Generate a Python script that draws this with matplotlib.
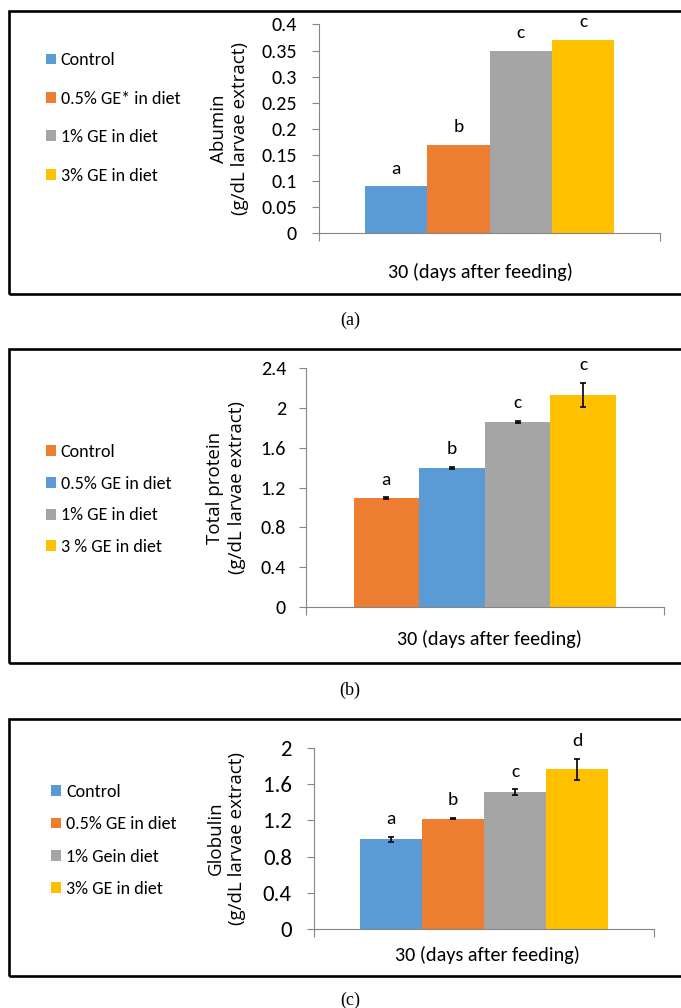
import matplotlib
matplotlib.use("Agg")
import matplotlib.pyplot as plt
from matplotlib.patches import Rectangle

plt.rcParams['font.family'] = ['Carlito', 'Lato', 'DejaVu Sans']

W, H = 681, 1008

# 1. data
labels_a = ["Control", "0.5% GE* in diet", "1% GE in diet", "3% GE in diet"]
colors_a = ["#5B9BD5", "#ED7D31", "#A5A5A5", "#FFC000"]
albumin = [0.09, 0.17, 0.35, 0.37]
letters_a = ["a", "b", "c", "c"]

labels_b = ["Control", "0.5% GE in diet", "1% GE in diet", "3 % GE in diet"]
colors_b = ["#ED7D31", "#5B9BD5", "#A5A5A5", "#FFC000"]
protein = [1.09, 1.40, 1.86, 2.13]
protein_err = [0.01, 0.01, 0.01, 0.12]
letters_b = ["a", "b", "c", "c"]

labels_c = ["Control", "0.5% GE in diet", "1% Gein diet", "3% GE in diet"]
colors_c = ["#5B9BD5", "#ED7D31", "#A5A5A5", "#FFC000"]
globulin = [0.99, 1.22, 1.51, 1.76]
globulin_err = [0.03, 0.01, 0.03, 0.12]
letters_c = ["a", "b", "c", "d"]

yticks_a = [0, 0.05, 0.1, 0.15, 0.2, 0.25, 0.3, 0.35, 0.4]
yticks_b = [0, 0.4, 0.8, 1.2, 1.6, 2, 2.4]
yticks_c = [0, 0.4, 0.8, 1.2, 1.6, 2]

xlabel = "30 (days after feeding)"
AXIS_GRAY = "#868686"


def px_rect(x0, x1, ytop, ybot):
    return [x0 / W, 1 - ybot / H, (x1 - x0) / W, (ybot - ytop) / H]


def draw_panel(fig, rect_px, box_px, values, errs, colors, labels, letters,
               yticks, ylabel, tick_fs, tick_pad, leg_xy, leg_space, leg_fs,
               ylab_right, xlab_xy, caption, cap_y):
    x0, x1, ytop, ybot = rect_px
    ax = fig.add_axes(px_rect(*rect_px))
    width = 0.183
    bars = []
    for i, v in enumerate(values):
        xpos = (i - 1.5) * width
        e = None if errs is None else errs[i]
        b = ax.bar(xpos, v, width, color=colors[i], yerr=e, capsize=2.2,
                   error_kw=dict(ecolor="black", elinewidth=1.2, capthick=1.2))
        bars.append(b)
        top = v + (0 if e is None else e)
        ax.annotate(letters[i], (xpos, top), xytext=(0, 7), textcoords="offset points",
                    ha="center", va="bottom", fontsize=14)

    ax.set_xlim(-0.5, 0.5)
    ax.set_ylim(yticks[0], yticks[-1])
    ax.set_yticks(yticks)
    ax.set_yticklabels([f"{t:g}" for t in yticks])
    ax.set_xticks([-0.5, 0.5])
    ax.set_xticklabels(["", ""])
    for s in ["top", "right"]:
        ax.spines[s].set_visible(False)
    for s in ["left", "bottom"]:
        ax.spines[s].set_color(AXIS_GRAY)
    ax.tick_params(axis="y", length=5, color=AXIS_GRAY, labelsize=tick_fs, pad=tick_pad)
    ax.tick_params(axis="x", length=6, color=AXIS_GRAY)

    ax.set_ylabel(ylabel, fontsize=13.5, family=["Open Sans", "DejaVu Sans"], linespacing=1.25)
    ax.yaxis.set_label_coords((ylab_right - x0) / (x1 - x0), 0.5)
    ax.set_xlabel(xlabel, fontsize=14.5)
    ax.xaxis.set_label_coords((xlab_xy[0] - x0) / (x1 - x0),
                              -(xlab_xy[1] - ybot) / (ybot - ytop))

    fs_px = leg_fs * 100 / 72
    ax.legend(bars, labels, loc="center left",
              bbox_to_anchor=(leg_xy[0] / W, 1 - leg_xy[1] / H),
              bbox_transform=fig.transFigure, frameon=False, fontsize=leg_fs,
              handlelength=10 / fs_px, handleheight=10 / fs_px,
              handletextpad=5 / fs_px, labelspacing=leg_space,
              borderpad=0, borderaxespad=0)

    bx0, by0, by1 = box_px
    fig.add_artist(Rectangle((bx0 / W, 1 - by1 / H), (720 - bx0) / W, (by1 - by0) / H,
                             transform=fig.transFigure, fill=False, lw=1.9,
                             ec="black", clip_on=False))
    fig.text(350 / W, 1 - cap_y / H, caption, ha="center", va="center",
             fontsize=13, family=["Liberation Serif", "DejaVu Serif"])
    return ax


fig = plt.figure(figsize=(W / 100, H / 100), dpi=100)

draw_panel(fig, (319, 660, 24.5, 233.3), (9, 11, 294), albumin, None, colors_a,
           labels_a, letters_a, yticks_a, "Abumin\n(g/dL larvae extract)",
           14.5, 11, (45.6, 118), 1.24, 13, 249, (480, 263), "(a)", 320)

draw_panel(fig, (305.5, 664, 368.3, 606.7), (9, 349, 663), protein, protein_err, colors_b,
           labels_b, letters_b, yticks_b, "Total protein\n(g/dL larvae extract)",
           14.5, 9, (45.6, 499.5), 0.88, 13, 246, (489, 630), "(b)", 690)

draw_panel(fig, (314, 654, 747.7, 929.3), (9, 719, 976), globulin, globulin_err, colors_c,
           labels_c, letters_c, yticks_c, "Globulin\n(g/dL larvae extract)",
           16.5, 11, (51, 840.5), 0.9, 13, 246, (487, 946), "(c)", 1000)

fig.savefig("out.png", dpi=100)
